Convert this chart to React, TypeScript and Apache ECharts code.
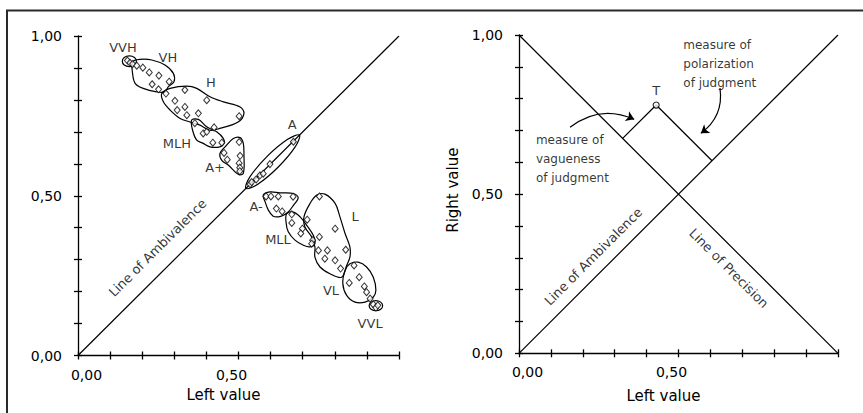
import React, { useEffect, useRef } from 'react';
import * as echarts from 'echarts';

const FONT = '"DejaVu Sans", "Noto Sans", sans-serif';

// ---- tick labels ----
const TICK_VALUES = [0, 0.5, 1];
const TICK_TEXTS = ['0,00', '0,50', '1,00'];
const X_LABEL_VALUES = [0, 0.5];

// ---- left panel: cluster names & label anchors ----
const CLUSTER_NAMES = ['VVH', 'VH', 'H', 'MLH', 'A+', 'A', 'A-', 'MLL', 'L', 'VL', 'VVL'];
const CLUSTER_LABEL_POS = [
  [0.14, 0.963], [0.28, 0.934], [0.414, 0.856], [0.308, 0.662], [0.427, 0.587],
  [0.667, 0.722], [0.555, 0.465], [0.623, 0.362], [0.863, 0.434], [0.788, 0.205], [0.91, 0.099],
];

// ---- left panel: judgments (left value, right value) ----
const PTS_VVH = [[0.154, 0.923], [0.162, 0.916], [0.17, 0.912]];
const PTS_VH = [[0.183, 0.907], [0.202, 0.901], [0.222, 0.886], [0.252, 0.876], [0.284, 0.857], [0.231, 0.849], [0.251, 0.833], [0.274, 0.82]];
const PTS_H = [[0.333, 0.831], [0.401, 0.799], [0.302, 0.797], [0.333, 0.778], [0.309, 0.768], [0.339, 0.752], [0.375, 0.758], [0.502, 0.749], [0.424, 0.714]];
const PTS_MLH = [[0.364, 0.727], [0.39, 0.695], [0.401, 0.7], [0.42, 0.666], [0.448, 0.666]];
const PTS_APLUS = [[0.502, 0.668], [0.455, 0.634], [0.505, 0.625], [0.465, 0.613], [0.502, 0.602], [0.504, 0.588], [0.504, 0.577]];
const PTS_A = [[0.536, 0.536], [0.541, 0.543], [0.555, 0.551], [0.567, 0.564], [0.577, 0.569], [0.598, 0.599], [0.671, 0.669]];
const PTS_AMINUS = [[0.586, 0.498], [0.601, 0.498], [0.624, 0.498], [0.67, 0.497], [0.618, 0.46], [0.636, 0.451]];
const PTS_MLL = [[0.666, 0.442], [0.666, 0.415], [0.699, 0.397], [0.694, 0.382], [0.731, 0.361], [0.728, 0.35]];
const PTS_L = [[0.752, 0.498], [0.714, 0.425], [0.801, 0.397], [0.752, 0.371], [0.749, 0.329], [0.777, 0.329], [0.834, 0.331], [0.769, 0.303], [0.801, 0.298], [0.818, 0.272]];
const PTS_VL = [[0.86, 0.282], [0.876, 0.245], [0.845, 0.227], [0.892, 0.216], [0.899, 0.198], [0.91, 0.178]];
const PTS_VVL = [[0.92, 0.16], [0.928, 0.15], [0.934, 0.157]];

// ---- left panel: hand-drawn cluster outlines ----
const OUT_VVH = [[0.182, 0.921], [0.176, 0.933], [0.16, 0.938], [0.144, 0.933], [0.138, 0.921], [0.144, 0.909], [0.16, 0.904], [0.176, 0.909]];
const OUT_VH = [[0.17, 0.919], [0.193, 0.927], [0.23, 0.925], [0.271, 0.909], [0.297, 0.883], [0.299, 0.857], [0.281, 0.841], [0.271, 0.825], [0.245, 0.825], [0.203, 0.836], [0.178, 0.852], [0.17, 0.883]];
const OUT_H = [[0.261, 0.82], [0.287, 0.836], [0.339, 0.843], [0.37, 0.836], [0.411, 0.81], [0.453, 0.794], [0.505, 0.778], [0.517, 0.758], [0.499, 0.731], [0.442, 0.711], [0.411, 0.705], [0.38, 0.721], [0.349, 0.731], [0.318, 0.742], [0.287, 0.768], [0.266, 0.794]];
const OUT_MLH = [[0.354, 0.737], [0.375, 0.739], [0.401, 0.716], [0.432, 0.7], [0.453, 0.679], [0.455, 0.664], [0.442, 0.653], [0.411, 0.653], [0.39, 0.664], [0.37, 0.674], [0.357, 0.705]];
const OUT_APLUS = [[0.442, 0.632], [0.458, 0.653], [0.484, 0.679], [0.505, 0.682], [0.515, 0.664], [0.517, 0.627], [0.515, 0.57], [0.499, 0.567], [0.468, 0.596], [0.448, 0.611]];
const OUT_A = [[0.69, 0.69], [0.652, 0.676], [0.59, 0.624], [0.536, 0.56], [0.523, 0.523], [0.56, 0.536], [0.624, 0.59], [0.676, 0.652]];
const OUT_AMINUS = [[0.577, 0.502], [0.598, 0.512], [0.629, 0.509], [0.671, 0.507], [0.686, 0.494], [0.671, 0.47], [0.655, 0.449], [0.64, 0.439], [0.624, 0.434], [0.608, 0.436], [0.593, 0.455], [0.583, 0.481]];
const OUT_MLL = [[0.65, 0.444], [0.671, 0.449], [0.692, 0.434], [0.712, 0.408], [0.733, 0.376], [0.738, 0.35], [0.723, 0.34], [0.702, 0.345], [0.676, 0.361], [0.655, 0.387], [0.648, 0.418]];
const OUT_L = [[0.723, 0.476], [0.744, 0.502], [0.769, 0.505], [0.801, 0.476], [0.816, 0.434], [0.832, 0.382], [0.847, 0.34], [0.847, 0.308], [0.837, 0.282], [0.821, 0.245], [0.785, 0.256], [0.754, 0.277], [0.738, 0.308], [0.738, 0.34], [0.728, 0.371], [0.707, 0.402], [0.704, 0.434]];
const OUT_VL = [[0.832, 0.266], [0.847, 0.287], [0.873, 0.292], [0.899, 0.277], [0.92, 0.245], [0.928, 0.204], [0.92, 0.183], [0.894, 0.167], [0.863, 0.167], [0.837, 0.188], [0.825, 0.225]];
const OUT_VVL = [[0.949, 0.156], [0.943, 0.167], [0.928, 0.172], [0.913, 0.167], [0.907, 0.156], [0.913, 0.145], [0.928, 0.14], [0.943, 0.145]];

const ALL_POINTS = [PTS_VVH, PTS_VH, PTS_H, PTS_MLH, PTS_APLUS, PTS_A, PTS_AMINUS, PTS_MLL, PTS_L, PTS_VL, PTS_VVL];
const ALL_OUTLINES = [OUT_VVH, OUT_VH, OUT_H, OUT_MLH, OUT_APLUS, OUT_A, OUT_AMINUS, OUT_MLL, OUT_L, OUT_VL, OUT_VVL];

// ---- reference lines ----
const LINE_AMBIVALENCE = [[0, 0], [1, 1]];
const LINE_PRECISION = [[0, 1], [1, 0]];

// ---- right panel: example judgment T ----
const POINT_T = [0.43, 0.78];
const T_NAME = 'T';

// ---- text annotations ----
const LEFT_TEXTS = [{ text: 'Line of Ambivalence', pos: [0.248, 0.337], rotate: 45 }];
const RIGHT_TEXTS = [
  { text: 'Line of Ambivalence', pos: [0.233, 0.304], rotate: 45 },
  { text: 'Line of Precision', pos: [0.658, 0.267], rotate: -45 },
];
const NOTE_VAGUENESS = ['measure of', 'vagueness', 'of judgment'];
const NOTE_VAGUENESS_POS = [0.053, 0.61];
const NOTE_POLARIZATION = ['measure of', 'polarization', 'of judgment'];
const NOTE_POLARIZATION_POS = [0.515, 0.91];
const ARROW_VAGUENESS = [[0.16, 0.71], [0.361, 0.735]];
const ARROW_POLARIZATION = [[0.63, 0.833], [0.57, 0.691]];

const X_NAME = 'Left value';
const Y_NAME = 'Right value';

export default function App() {
  const ref = useRef<HTMLDivElement>(null);

  useEffect(() => {
    if (!ref.current) return;
    const chart = echarts.init(ref.current, null, { renderer: 'svg' });

    const black = '#000';
    const isVal = (v: number, t: number) => Math.abs(v - t) < 1e-6;

    const xFormatter = (v: number) => {
      const i = X_LABEL_VALUES.findIndex((t) => isVal(v, t));
      if (i < 0) return '';
      const k = TICK_VALUES.findIndex((t) => isVal(v, t));
      return `{p${i}|${TICK_TEXTS[k]}}`;
    };
    const yFormatter = (v: number) => {
      const k = TICK_VALUES.findIndex((t) => isVal(v, t));
      return k < 0 ? '' : TICK_TEXTS[k];
    };

    const baseAxis = {
      type: 'value',
      min: 0,
      max: 1,
      interval: 0.1,
      splitLine: { show: false },
      axisLine: { show: true, onZero: false, lineStyle: { color: black, width: 1.3 } },
      axisTick: { show: true, length: 4, lineStyle: { color: black, width: 1.3 } },
    };
    const innerAxis = {
      ...baseAxis,
      axisLine: { show: false },
      axisLabel: { show: false },
      axisTick: { show: true, inside: true, length: 4, lineStyle: { color: black, width: 1.3 } },
    };
    const TICK_FS = 14;
    const xLabel = {
      formatter: xFormatter,
      margin: 12,
      color: black,
      fontFamily: FONT,
      fontSize: TICK_FS,
      rich: {
        p0: { padding: [0, 0, 0, 17], fontFamily: FONT, fontSize: TICK_FS, color: black },
        p1: { padding: [0, 14, 0, 0], fontFamily: FONT, fontSize: TICK_FS, color: black },
      },
    };
    const yLabel = { formatter: yFormatter, margin: 16, color: black, fontFamily: FONT, fontSize: TICK_FS };
    const xNameStyle = { color: black, fontFamily: FONT, fontSize: 15, padding: [0, 30, 0, 0] };
    const yNameStyle = { color: black, fontFamily: FONT, fontSize: 15, padding: [0, 0, 0, 8] };

    const textSeries = (items: { text: string; pos: number[]; rotate: number }[], xi: number) => ({
      type: 'scatter',
      xAxisIndex: xi,
      yAxisIndex: xi,
      symbolSize: 0,
      silent: true,
      z: 6,
      data: items.map((it) => ({ value: it.pos, name: it.text, label: { rotate: it.rotate } })),
      label: {
        show: true,
        position: 'inside',
        formatter: (p: any) => p.name,
        color: black,
        fontFamily: FONT,
        fontSize: 13,
      },
    });

    const noteSeries = (lines: string[], pos: number[]) => ({
      type: 'scatter',
      xAxisIndex: 1,
      yAxisIndex: 1,
      symbolSize: 0,
      silent: true,
      data: [{ value: pos, name: lines.join('\n') }],
      label: {
        show: true,
        position: 'right',
        distance: 0,
        align: 'left',
        formatter: (p: any) => p.name,
        color: black,
        fontFamily: FONT,
        fontSize: 12,
        lineHeight: 19,
      },
    });

    const footA = [POINT_T[0] - (POINT_T[0] + POINT_T[1] - 1) / 2, POINT_T[1] - (POINT_T[0] + POINT_T[1] - 1) / 2];
    const footB = [(POINT_T[0] + POINT_T[1]) / 2, (POINT_T[0] + POINT_T[1]) / 2];

    const option: any = {
      animation: false,
      backgroundColor: '#fff',
      textStyle: { fontFamily: FONT },
      grid: [
        { left: 78, top: 36, width: 321, height: 319.5, containLabel: false },
        { left: 519, top: 35, width: 319, height: 318.3, containLabel: false },
      ],
      xAxis: [
        { ...baseAxis, gridIndex: 0, position: 'bottom', axisLabel: xLabel, name: X_NAME, nameLocation: 'middle', nameGap: 32, nameTextStyle: xNameStyle },
        { ...baseAxis, gridIndex: 1, position: 'bottom', axisLabel: xLabel, name: X_NAME, nameLocation: 'middle', nameGap: 35, nameTextStyle: xNameStyle },
        { ...innerAxis, gridIndex: 0, position: 'bottom' },
        { ...innerAxis, gridIndex: 1, position: 'bottom' },
      ],
      yAxis: [
        { ...baseAxis, gridIndex: 0, position: 'left', axisLabel: yLabel },
        { ...baseAxis, gridIndex: 1, position: 'left', axisLabel: yLabel, name: Y_NAME, nameLocation: 'middle', nameRotate: 90, nameGap: 59, nameTextStyle: yNameStyle },
        { ...innerAxis, gridIndex: 0, position: 'left' },
        { ...innerAxis, gridIndex: 1, position: 'left' },
      ],
      graphic: [
        {
          type: 'polyline',
          shape: { points: [[7, 413], [7, 10.5], [863, 10.5]] },
          style: { stroke: '#2a2a2a', lineWidth: 2, fill: 'none' },
          silent: true,
        },
      ],
      series: [
        {
          type: 'line', xAxisIndex: 0, yAxisIndex: 0, data: LINE_AMBIVALENCE, symbol: 'none',
          lineStyle: { color: black, width: 1.2 }, silent: true, z: 2,
        },
        {
          type: 'custom', xAxisIndex: 0, yAxisIndex: 0, silent: true, z: 3,
          data: ALL_OUTLINES.map((o) => o[0]),
          encode: { x: 0, y: 1 },
          renderItem: (params: any, api: any) => {
            const outline = ALL_OUTLINES[params.dataIndex];
            const pts = outline.map((p) => api.coord(p));
            return {
              type: 'polygon',
              shape: { points: pts, smooth: 0.35 },
              style: { fill: 'none', stroke: black, lineWidth: 1.2 },
            };
          },
        },
        {
          type: 'scatter', xAxisIndex: 0, yAxisIndex: 0, z: 4,
          symbol: 'diamond', symbolSize: [6, 7],
          itemStyle: { color: '#fff', borderColor: black, borderWidth: 1 },
          data: ALL_POINTS.flat(),
        },
        {
          type: 'scatter', xAxisIndex: 0, yAxisIndex: 0, symbolSize: 0, silent: true, z: 5,
          data: CLUSTER_LABEL_POS.map((p, i) => ({ value: p, name: CLUSTER_NAMES[i] })),
          label: {
            show: true, position: 'inside', formatter: (p: any) => p.name,
            color: black, fontFamily: FONT, fontSize: 13,
          },
        },
        textSeries(LEFT_TEXTS, 0),
        {
          type: 'line', xAxisIndex: 1, yAxisIndex: 1, data: LINE_AMBIVALENCE, symbol: 'none',
          lineStyle: { color: black, width: 1.2 }, silent: true,
        },
        {
          type: 'line', xAxisIndex: 1, yAxisIndex: 1, data: LINE_PRECISION, symbol: 'none',
          lineStyle: { color: black, width: 1.2 }, silent: true,
        },
        {
          type: 'line', xAxisIndex: 1, yAxisIndex: 1, data: [footA, POINT_T, footB], symbol: 'none',
          lineStyle: { color: black, width: 1.2 }, silent: true,
        },
        {
          type: 'scatter', xAxisIndex: 1, yAxisIndex: 1, z: 5,
          symbol: 'circle', symbolSize: 6,
          itemStyle: { color: '#fff', borderColor: black, borderWidth: 1.2 },
          data: [{ value: POINT_T, name: T_NAME }],
          label: {
            show: true, position: 'top', distance: 4, formatter: (p: any) => p.name,
            color: black, fontFamily: FONT, fontSize: 13,
          },
        },
        textSeries(RIGHT_TEXTS, 1),
        noteSeries(NOTE_VAGUENESS, NOTE_VAGUENESS_POS),
        noteSeries(NOTE_POLARIZATION, NOTE_POLARIZATION_POS),
        {
          type: 'lines', coordinateSystem: 'cartesian2d', xAxisIndex: 1, yAxisIndex: 1, silent: true,
          symbol: ['none', 'arrow'], symbolSize: 8,
          lineStyle: { color: black, width: 1.2, curveness: 0.3, opacity: 1 },
          data: [
            { coords: ARROW_VAGUENESS, lineStyle: { curveness: 0.3 } },
            { coords: ARROW_POLARIZATION, lineStyle: { curveness: 0.3 } },
          ],
        },
      ],
    };

    chart.setOption(option);
    return () => chart.dispose();
  }, []);

  return (
    <div
      ref={ref}
      style={{ position: 'absolute', left: 0, top: 0, width: 863, height: 413, background: '#fff' }}
    />
  );
}
